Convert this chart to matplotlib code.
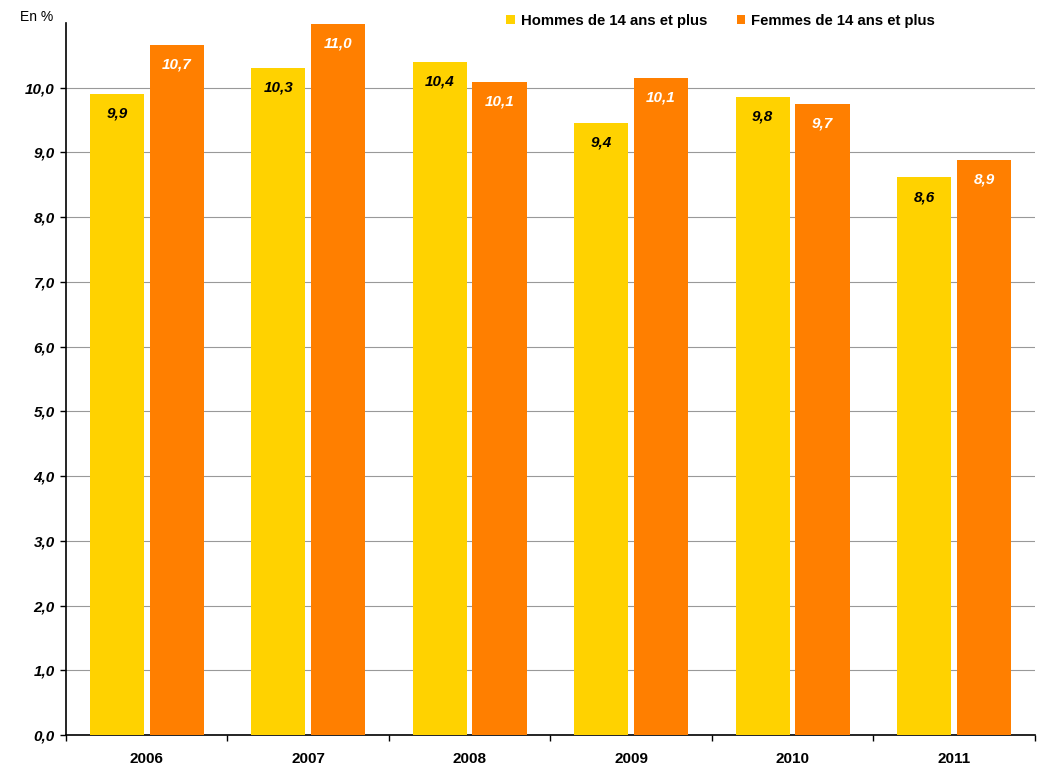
import matplotlib.pyplot as plt
import numpy as np

plt.rcParams['font.family'] = ['Liberation Sans', 'DejaVu Sans']

years = ['2006', '2007', '2008', '2009', '2010', '2011']
hommes = [9.91, 10.31, 10.40, 9.46, 9.86, 8.62]
femmes = [10.66, 10.99, 10.09, 10.15, 9.75, 8.89]
hommes_lbl = ['9,9', '10,3', '10,4', '9,4', '9,8', '8,6']
femmes_lbl = ['10,7', '11,0', '10,1', '10,1', '9,7', '8,9']

yellow = '#FFD200'
orange = '#FF7F00'
fs = 11

fig = plt.figure(figsize=(10.39, 7.65), dpi=100)
ax = fig.add_axes([0.0635, 0.039, 0.9325, 0.931])

x = np.arange(len(years))
w = 0.335
bh = ax.bar(x - 0.185, hommes, w, color=yellow, zorder=3)
bf = ax.bar(x + 0.185, femmes, w, color=orange, zorder=3)

for bars, labels, col in [(bh, hommes_lbl, 'black'), (bf, femmes_lbl, 'white')]:
    for b, lab in zip(bars, labels):
        ax.annotate(lab, (b.get_x() + b.get_width() / 2, b.get_height()),
                    xytext=(0, -20), textcoords='offset pixels',
                    ha='center', va='center', fontsize=fs,
                    fontweight='bold', fontstyle='italic', color=col, zorder=4)

ax.set_xlim(-0.5, len(years) - 0.5)
ax.set_ylim(0, 11)
ax.set_yticks(np.arange(0, 11, 1))
ax.set_yticklabels([f'{v:.1f}'.replace('.', ',') for v in range(0, 11)],
                   fontsize=fs, fontweight='bold', fontstyle='italic')
ax.yaxis.grid(True, color='#999999', linewidth=0.8, zorder=0)

ax.set_xticks(x)
ax.set_xticklabels(years, fontsize=fs, fontweight='bold')
ax.set_xticks(np.arange(-0.5, len(years) + 0.5, 1), minor=True)
ax.tick_params(axis='x', which='major', length=0, pad=12)
ax.tick_params(axis='x', which='minor', length=4, width=1, direction='out')
ax.tick_params(axis='y', length=4, width=1, direction='out', pad=4)

for s in ['top', 'right']:
    ax.spines[s].set_visible(False)
ax.spines['left'].set_linewidth(1.2)
ax.spines['bottom'].set_linewidth(1.2)

fig.text(0.019, 0.978, 'En %', fontsize=10, ha='left', va='center')

leg = ax.legend([bh, bf], ['Hommes de 14 ans et plus', 'Femmes de 14 ans et plus'],
                loc='center', ncol=2, frameon=False,
                prop={'size': 10.7, 'weight': 'bold'}, handlelength=0.55,
                handleheight=0.55, handletextpad=0.4, columnspacing=2.0)
leg.set_bbox_to_anchor((0.6935, 0.973), transform=fig.transFigure)

fig.savefig('out.png', dpi=100)
